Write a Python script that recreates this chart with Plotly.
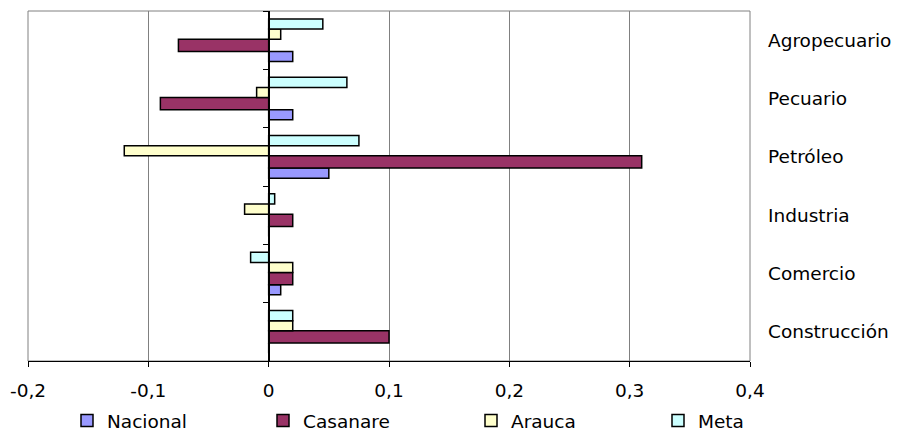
import plotly.graph_objects as go

categories = ["Agropecuario", "Pecuario", "Petróleo", "Industria", "Comercio", "Construcción"]
nacional = [0.02, 0.02, 0.05, 0.0, 0.01, 0.0]
casanare = [-0.075, -0.09, 0.31, 0.02, 0.02, 0.10]
arauca = [0.01, -0.01, -0.12, -0.02, 0.02, 0.02]
meta = [0.045, 0.065, 0.075, 0.005, -0.015, 0.02]

x_tickvals = [-0.2, -0.1, 0, 0.1, 0.2, 0.3, 0.4]
x_ticktext = ["-0,2", "-0,1", "0", "0,1", "0,2", "0,3", "0,4"]

FONT = "DejaVu Sans, Verdana, sans-serif"
FS = 18.5

# page body has an 8px margin; figure is sized to fit the 901x431 window
W, H = 893, 423
L, R, T, B = 20, 151, 3, 70

# (name, values, color, bar offset, bar width, legend id, legend left px)
series = [
    ("Nacional", nacional, "#9999FF", 0.193, 0.172, "legend", 59),
    ("Casanare", casanare, "#993366", -0.017, 0.21, "legend2", 255),
    ("Arauca", arauca, "#FFFFCC", -0.19, 0.173, "legend3", 463),
    ("Meta", meta, "#CCFFFF", -0.365, 0.175, "legend4", 650),
]

fig = go.Figure()
for name, vals, color, off, w, lg, _ in series:
    fig.add_trace(go.Bar(
        name=name, x=vals, y=categories, orientation="h",
        marker=dict(color=color, line=dict(color="black", width=1.5)),
        offset=off, width=w, hoverinfo="skip", legend=lg,
    ))

# invisible trace carrying the axis drawn at x = 0
fig.add_trace(go.Scatter(
    x=[0] * len(categories), y=categories, yaxis="y2", mode="markers",
    marker=dict(opacity=0), showlegend=False, hoverinfo="skip",
))

legend_y = (H - 413) / H
legends = {}
for name, vals, color, off, w, lg, lx in series:
    legends[lg] = dict(
        orientation="h", xref="container", yref="container",
        x=lx / W, xanchor="left", y=legend_y, yanchor="middle",
        itemwidth=30, font=dict(family=FONT, size=FS),
        bgcolor="rgba(0,0,0,0)",
    )

fig.update_layout(
    width=W, height=H,
    margin=dict(l=L, r=R, t=T, b=B, autoexpand=False),
    paper_bgcolor="white", plot_bgcolor="white",
    barmode="overlay",
    font=dict(family=FONT, size=FS, color="black"),
    xaxis=dict(
        range=[-0.2, 0.4], tickvals=x_tickvals, ticktext=x_ticktext,
        showgrid=True, gridcolor="#808080", gridwidth=1,
        zeroline=False, showline=True, linecolor="black", linewidth=1,
        ticks="outside", ticklen=5, tickcolor="black",
        ticklabelstandoff=8, tickfont=dict(family=FONT, size=FS),
    ),
    yaxis=dict(
        type="category", categoryorder="array", categoryarray=categories,
        range=[5.5, -0.5], side="right", showgrid=False, zeroline=False,
        showline=False, ticks="", ticklabelstandoff=17,
        tickfont=dict(family=FONT, size=FS),
    ),
    yaxis2=dict(
        type="category", categoryorder="array", categoryarray=categories,
        range=[5.5, -0.5], overlaying="y", anchor="free", position=1/3,
        showgrid=False, zeroline=False, showline=True, linecolor="black", linewidth=1.5,
        ticks="outside", ticklen=5, tickcolor="black", tickson="boundaries",
        showticklabels=False,
    ),
    shapes=[dict(type="rect", xref="paper", yref="paper", x0=0, x1=1, y0=0, y1=1,
                 line=dict(color="#808080", width=1), layer="below")],
    showlegend=True,
    **legends,
)

fig.write_html("out.html")
